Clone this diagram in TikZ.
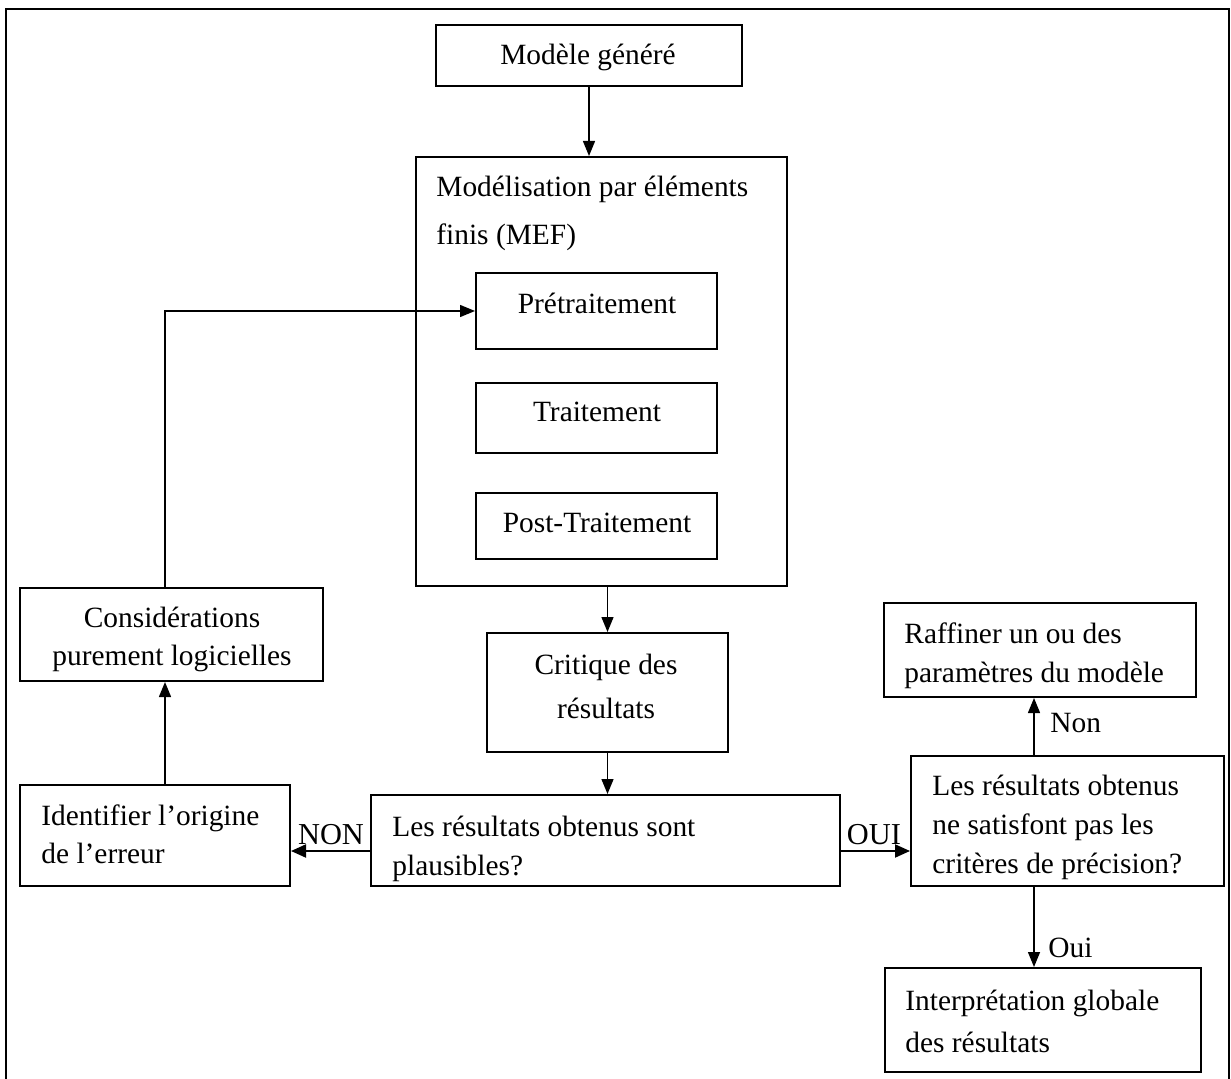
\documentclass[tikz,border=0pt]{standalone}
\usepackage{fontspec}
\setmainfont{Liberation Serif}
\usetikzlibrary{arrows.meta,fit,calc}
\begin{document}
\begin{tikzpicture}[x=0.5pt,y=-0.5pt,
  box/.style={draw,line width=1pt,rectangle,inner sep=0pt},
  txt/.style={inner sep=0pt,font=\fontsize{14.7}{19.5}\selectfont},
  conn/.style={line width=0.7pt,-{Triangle[length=7.5pt,width=6pt]}},
  thickconn/.style={line width=1pt,-{Triangle[length=7.5pt,width=6.5pt]}}]
\useasboundingbox (0,0) rectangle (1231,1079);
\draw[line width=1pt] (5.5,9) rectangle (1229,1090);
% boxes
\node[box,fit={(436,25) (742,86)}] (model) {};
\node[box,fit={(416,157) (787,586)}] (mef) {};
\node[box,fit={(476,273) (717,349)}] (pre) {};
\node[box,fit={(476,383) (717,453)}] (trait) {};
\node[box,fit={(476,493) (717,559)}] (post) {};
\node[box,fit={(20,588) (323,681)}] (consid) {};
\node[box,fit={(487,633) (728,752)}] (crit) {};
\node[box,fit={(884,603) (1196,697)}] (raff) {};
\node[box,fit={(20,785) (290,886)}] (ident) {};
\node[box,fit={(371,795) (840,886)}] (plaus) {};
\node[box,fit={(911,756) (1224,886)}] (prec) {};
\node[box,fit={(885,968) (1201,1072)}] (interp) {};
% texts (base anchor = last line baseline)
\node[txt,anchor=base] (tmodel) at (588,65) {Modèle généré};
\node[txt,anchor=base west,align=left,font=\fontsize{14.7}{24}\selectfont] (tmef) at (436,245) {Modélisation par éléments\\finis (MEF)};
\node[txt,anchor=base] (tpre) at (597,314) {Prétraitement};
\node[txt,anchor=base] (ttrait) at (597,422) {Traitement};
\node[txt,anchor=base] (tpost) at (597,533) {Post-Traitement};
\node[txt,anchor=base,align=center,font=\fontsize{14.7}{19}\selectfont] (tconsid) at (172,665) {Considérations\\purement logicielles};
\node[txt,anchor=base,align=center,font=\fontsize{14.7}{22}\selectfont] (tcrit) at (606,718) {Critique des\\résultats};
\node[txt,anchor=base west,align=left] (traff) at (904,682) {Raffiner un ou des\\paramètres du modèle};
\node[txt,anchor=base west,align=left,font=\fontsize{14.7}{19}\selectfont] (tident) at (41,863) {Identifier l’origine\\de l’erreur};
\node[txt,anchor=base west,align=left] (tplaus) at (392,875) {Les résultats obtenus sont\\plausibles?};
\node[txt,anchor=base west,align=left] (tprec) at (932,873) {Les résultats obtenus\\ne satisfont pas les\\critères de précision?};
\node[txt,anchor=base west,align=left,font=\fontsize{14.7}{21}\selectfont] (tinterp) at (905,1052) {Interprétation globale\\des résultats};
\node[txt,anchor=base,font=\fontsize{15.2}{19}\selectfont] (lnon) at (331,844) {NON};
\node[txt,anchor=base,font=\fontsize{15.2}{19}\selectfont] (loui) at (874,844) {OUI};
\node[txt,anchor=base west] (lnon2) at (1050,732) {Non};
\node[txt,anchor=base west] (loui2) at (1048,957) {Oui};
% helper coordinates
\coordinate (vx) at (1034,0);
\coordinate (lx) at (165,0);
\coordinate (hy) at (0,851);
% connectors
\draw[conn] (model.south) -- (model.south |- mef.north);
\draw[conn] (crit.north |- mef.south) -- (crit.north);
\draw[conn] (crit.south) -- (crit.south |- plaus.north);
\draw[thickconn] (plaus.west |- hy) -- (ident.east |- hy);
\draw[thickconn] (plaus.east |- hy) -- (prec.west |- hy);
\draw[conn] (vx |- prec.north) -- (vx |- raff.south);
\draw[conn] (vx |- prec.south) -- (vx |- interp.north);
\draw[conn] (lx |- ident.north) -- (lx |- consid.south);
\draw[conn] (lx |- consid.north) |- (pre.west);
\end{tikzpicture}
\end{document}
